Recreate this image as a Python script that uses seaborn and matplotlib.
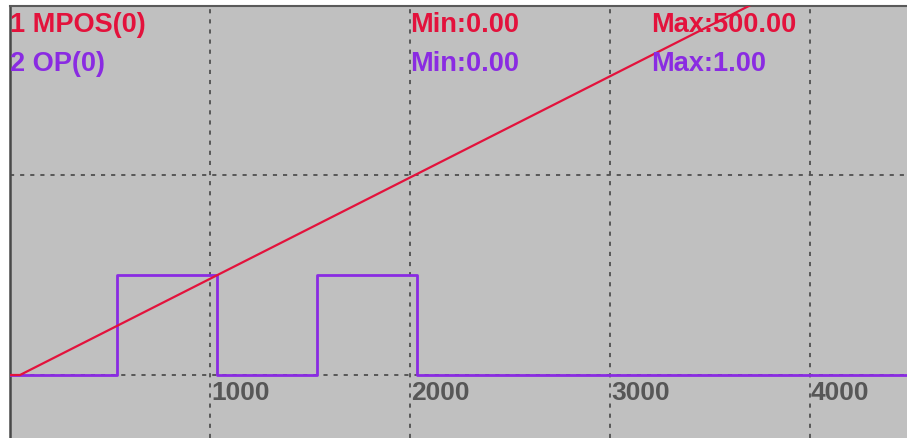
"""
Scope trace: MPOS(0) ramp and OP(0) output pulses, drawn like the
controller's oscilloscope window.
"""
import matplotlib
matplotlib.use("Agg")
import matplotlib.pyplot as plt
import seaborn as sns

# data (time in ms)
mpos_time = [0, 50, 4000, 4485]
mpos_value = [0, 0, 500, 500]

op_time = [0, 535, 1035, 1535, 2035, 4485]
op_value = [0, 1, 0, 1, 0, 0]

grid_x = [1000, 2000, 3000, 4000]
grid_y = [0, 250]
tick_labels = ["1000", "2000", "3000", "4000"]

channels = ["1 MPOS(0)", "2 OP(0)"]
ch_min = ["Min:0.00", "Min:0.00"]
ch_max = ["Max:500.00", "Max:1.00"]

RED = "#E3123C"
PURPLE = "#8A2BE2"
GRID = "#505050"
FONT = "Liberation Sans"


def main():
    fig = plt.figure(figsize=(9.07, 4.38), dpi=100)
    fig.patch.set_facecolor("white")
    ax = fig.add_axes([9.5 / 907, 0, 897.5 / 907, 432 / 438])
    ax.set_facecolor("#C0C0C0")

    # dashed scope grid
    for gx in grid_x:
        ax.axvline(gx, color=GRID, lw=1.3, ls=(0, (2.3, 3.3)), zorder=1)
    for gy in grid_y:
        ax.axhline(gy, color=GRID, lw=1.3, ls=(0, (2.3, 3.3)), zorder=1)

    # second channel on its own scale
    ax2 = ax.twinx()
    sns.lineplot(x=op_time, y=op_value, ax=ax2, color=PURPLE, lw=2.0,
                 drawstyle="steps-post", zorder=2)
    ax2.set_ylim(-0.63, 3.69)

    ax3 = ax.twinx()
    sns.lineplot(x=mpos_time, y=mpos_value, ax=ax3, color=RED, lw=1.6,
                 zorder=3)
    ax3.set_ylim(-78.75, 461.25)
    ax.set_ylim(-78.75, 461.25)

    for a in (ax, ax2, ax3):
        a.set_xlim(-2.5, 4485)
        a.tick_params(length=0, labelbottom=False, labelleft=False,
                      labelright=False)
        a.set_xlabel("")
        a.set_ylabel("")
        for s in a.spines.values():
            s.set_visible(False)

    ax.spines["left"].set_visible(True)
    ax.spines["top"].set_visible(True)
    ax.spines["left"].set_color("#484848")
    ax.spines["top"].set_color("#5a5a5a")
    ax.spines["left"].set_linewidth(1.8)
    ax.spines["top"].set_linewidth(1.5)

    # time labels inside the plot, just right of each grid line
    trans = ax.get_xaxis_transform()
    for gx, lab in zip(grid_x, tick_labels):
        ax3.text(gx + 5, 38 / 432, lab, transform=trans, color="#575757",
                 fontsize=19, family=FONT, fontweight="bold",
                 ha="left", va="baseline")

    # channel headers
    colors = [RED, PURPLE]
    baselines = [406 / 432, 367 / 432]
    for i in range(2):
        ax3.text(0, baselines[i], channels[i], transform=trans,
                 color=colors[i], fontsize=19.5, family=FONT,
                 fontweight="bold", ha="left", va="baseline")
        ax3.text(2000, baselines[i], ch_min[i], transform=trans,
                 color=colors[i], fontsize=19.5, family=FONT,
                 fontweight="bold", ha="left", va="baseline")
        ax3.text(3205, baselines[i], ch_max[i], transform=trans,
                 color=colors[i], fontsize=19.5, family=FONT,
                 fontweight="bold", ha="left", va="baseline")

    fig.savefig("out.png", dpi=100)


if __name__ == '__main__':
    main()
